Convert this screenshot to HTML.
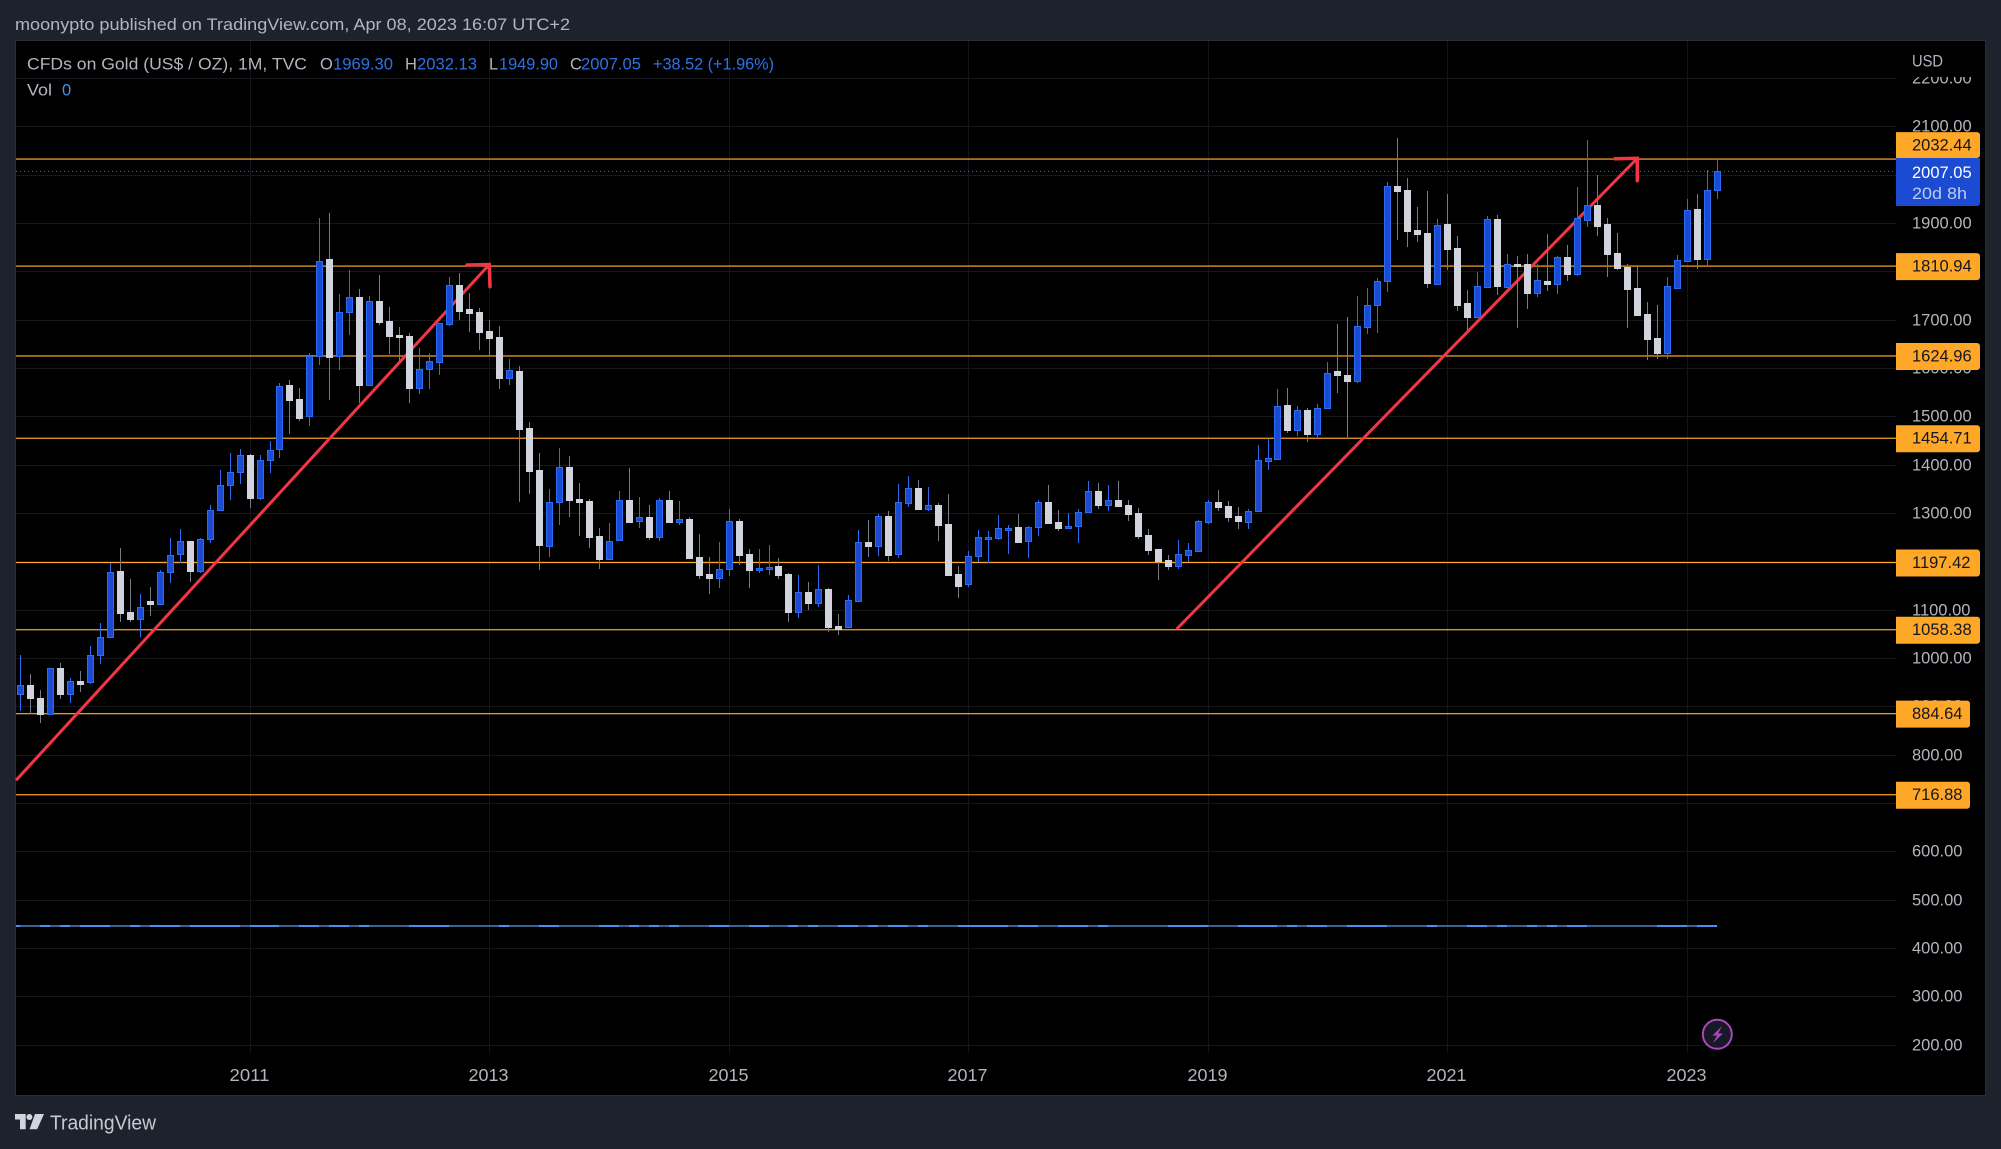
<!DOCTYPE html>
<html lang="en">
<head>
<meta charset="utf-8">
<title>CFDs on Gold monthly chart</title>
<style>
html,body{margin:0;padding:0;background:#1e222d;width:2001px;height:1149px;overflow:hidden}
svg{display:block;font-family:"Liberation Sans",sans-serif}
</style>
</head>
<body>
<svg id="chart" xmlns="http://www.w3.org/2000/svg" width="2001" height="1149" viewBox="0 0 2001 1149">
  <rect x="0" y="0" width="2001" height="1149" fill="#1e222d"/>
  <text x="15" y="30" font-size="16.5" fill="#b2b5be" textLength="555" lengthAdjust="spacingAndGlyphs">moonypto published on TradingView.com, Apr 08, 2023 16:07 UTC+2</text>
  <rect x="15" y="40" width="1971" height="1056" fill="#2a2e39"/>
  <rect x="16" y="41" width="1969" height="1054" fill="#000000"/>
  <g id="grid"></g>
  <g id="levels"></g>
  <g id="drawings"></g>
  <g id="candles"></g>
  <g id="volume"></g>
  <g id="priceAxis"></g>
  <rect x="1897" y="41" width="88" height="36" fill="#000000"/>
  <text x="1912" y="66.5" font-size="16.5" fill="#b2b5be" textLength="31" lengthAdjust="spacingAndGlyphs">USD</text>
  <g id="levelLabels"></g>
  <g id="lastPrice">
    <path d="M1896 158H1980V203a3 3 0 0 1-3 3H1896Z" fill="#1a4bd2"/>
    <text x="1912" y="178" font-size="16.5" fill="#ffffff">2007.05</text>
    <text x="1912" y="199" font-size="16.5" fill="#bccaf2" textLength="55" lengthAdjust="spacingAndGlyphs">20d 8h</text>
  </g>
  <g id="timeAxis"></g>

  <g>
    <text x="27" y="69.5" font-size="16.5" fill="#b2b5be" textLength="280" lengthAdjust="spacingAndGlyphs">CFDs on Gold (US$ / OZ), 1M, TVC</text>
    <text x="320" y="69.5" font-size="16.5" fill="#b2b5be">O</text>
    <text x="333" y="69.5" font-size="16.5" fill="#2b72e6" textLength="60" lengthAdjust="spacingAndGlyphs">1969.30</text>
    <text x="405" y="69.5" font-size="16.5" fill="#b2b5be">H</text>
    <text x="417" y="69.5" font-size="16.5" fill="#2b72e6" textLength="60" lengthAdjust="spacingAndGlyphs">2032.13</text>
    <text x="489" y="69.5" font-size="16.5" fill="#b2b5be">L</text>
    <text x="499" y="69.5" font-size="16.5" fill="#2b72e6" textLength="59" lengthAdjust="spacingAndGlyphs">1949.90</text>
    <text x="570" y="69.5" font-size="16.5" fill="#b2b5be">C</text>
    <text x="581" y="69.5" font-size="16.5" fill="#2b72e6" textLength="60" lengthAdjust="spacingAndGlyphs">2007.05</text>
    <text x="653" y="69.5" font-size="16.5" fill="#2b72e6" textLength="121" lengthAdjust="spacingAndGlyphs">+38.52 (+1.96%)</text>
    <text x="27" y="95.5" font-size="16.5" fill="#b2b5be" textLength="25" lengthAdjust="spacingAndGlyphs">Vol</text>
    <text x="62" y="95.5" font-size="16.5" fill="#4a90e2">0</text>
  </g>

  <g>
    <circle cx="1717.3" cy="1034.3" r="14.5" fill="#171a26" stroke="#ab47bc" stroke-width="2"/>
    <path d="M1722 1026L1712.5 1035.5H1717L1713 1043L1723 1033.5H1718.2Z" fill="#ab47bc"/>
  </g>

  <g>
    <path d="M15 1114H25.7V1129.3H20V1119.5H15Z" fill="#d1d4dc"/>
    <circle cx="29.4" cy="1117" r="3" fill="#d1d4dc"/>
    <path d="M35 1114H44L37.2 1129.3H29.5Z" fill="#d1d4dc"/>
    <text x="50" y="1129.5" font-size="20" fill="#c8cad1" textLength="106" lengthAdjust="spacingAndGlyphs">TradingView</text>
  </g>
</svg>
<script>
// Monthly candles, first bar Feb 2009, last bar Apr 2023
const opens = [
926,944,917,884,979,925,953,950,1006,1043,
1179,1096,1081,1117,1112,1177,1215,1241,1179,1246,
1306,1358,1384,1419,1330,1409,1432,1564,1535,1500,
1625,1825,1624,1715,1747,1564,1739,1697,1668,1666,
1559,1597,1613,1692,1772,1722,1716,1677,1664,1580,
1594,1476,1389,1232,1323,1395,1329,1325,1252,1205,
1245,1327,1284,1292,1251,1327,1282,1287,1209,1174,
1166,1185,1283,1215,1182,1185,1190,1174,1096,1136,
1114,1143,1066,1063,1118,1240,1232,1294,1216,1321,
1352,1309,1316,1277,1174,1152,1210,1249,1249,1268,
1271,1241,1270,1323,1281,1270,1274,1303,1345,1317,
1327,1316,1300,1254,1225,1203,1191,1214,1222,1282,
1323,1314,1294,1282,1305,1408,1412,1523,1472,1513,
1463,1518,1593,1585,1574,1685,1731,1781,1977,1968,
1886,1879,1774,1898,1848,1734,1705,1768,1908,1768,
1815,1815,1756,1780,1774,1830,1795,1907,1937,1898,
1838,1809,1766,1712,1662,1632,1766,1822,1929,1826,
1969.3];
const highs = [
1007,967,933,979,990,959,972,1024,1072,1196,
1227,1163,1132,1146,1181,1249,1266,1243,1249,1316,
1388,1425,1432,1423,1419,1448,1570,1576,1558,1631,
1911,1920,1753,1803,1764,1749,1793,1726,1685,1673,
1641,1631,1693,1788,1797,1755,1724,1699,1687,1619,
1604,1488,1424,1350,1434,1418,1362,1329,1269,1279,
1345,1393,1333,1316,1331,1345,1325,1292,1256,1209,
1240,1308,1287,1225,1225,1234,1207,1176,1172,1157,
1192,1145,1091,1130,1265,1285,1298,1304,1360,1376,
1368,1354,1321,1339,1190,1221,1265,1263,1296,1275,
1298,1273,1327,1358,1306,1300,1308,1366,1362,1358,
1366,1327,1310,1267,1225,1213,1244,1238,1285,1327,
1348,1325,1312,1308,1441,1453,1557,1559,1521,1517,
1526,1612,1691,1705,1749,1766,1786,1985,2076,1993,
1933,1966,1908,1960,1873,1761,1799,1915,1917,1836,
1832,1836,1815,1877,1832,1854,1975,2072,1999,1910,
1879,1815,1809,1737,1730,1788,1834,1950,1960,2010,
2032.13];
const lows = [
890,885,865,881,914,906,930,947,987,1041,
1075,1075,1044,1086,1111,1156,1197,1158,1175,1237,
1306,1326,1361,1310,1326,1382,1413,1463,1491,1479,
1607,1533,1596,1669,1527,1564,1690,1630,1613,1528,
1547,1557,1586,1687,1699,1675,1637,1626,1557,1564,
1323,1340,1182,1209,1275,1292,1252,1228,1184,1205,
1242,1281,1269,1244,1242,1281,1275,1207,1163,1132,
1145,1169,1192,1145,1176,1172,1163,1074,1083,1099,
1105,1054,1047,1063,1116,1209,1211,1201,1207,1312,
1306,1304,1242,1172,1124,1147,1199,1197,1244,1215,
1238,1207,1252,1277,1263,1267,1238,1303,1308,1304,
1312,1283,1246,1213,1161,1182,1184,1199,1222,1277,
1304,1281,1267,1267,1305,1389,1410,1465,1459,1447,
1455,1518,1548,1454,1569,1670,1672,1757,1865,1850,
1861,1766,1774,1803,1718,1679,1705,1768,1751,1768,
1683,1722,1747,1759,1753,1780,1790,1892,1873,1788,
1803,1683,1710,1617,1619,1619,1766,1822,1805,1811,
1949.9];
const closes = [
944,917,884,979,925,953,947,1007,1044,1178,
1094,1081,1106,1111,1178,1214,1242,1179,1247,1307,
1358,1385,1420,1330,1410,1431,1563,1533,1497,1625,
1822,1622,1715,1746,1564,1738,1696,1667,1664,1559,
1597,1614,1693,1771,1719,1714,1675,1662,1579,1595,
1474,1387,1234,1322,1396,1327,1323,1250,1205,1243,
1326,1281,1291,1250,1326,1281,1287,1207,1172,1165,
1185,1283,1213,1182,1186,1189,1172,1095,1136,1114,
1142,1064,1060,1119,1239,1232,1293,1213,1322,1351,
1308,1316,1275,1172,1149,1210,1250,1250,1268,1269,
1240,1270,1322,1279,1269,1274,1303,1345,1316,1326,
1314,1298,1252,1223,1201,1190,1216,1223,1283,1322,
1312,1292,1283,1305,1409,1413,1521,1472,1513,1463,
1517,1589,1585,1573,1687,1730,1781,1976,1966,1883,
1877,1776,1897,1846,1730,1705,1769,1908,1770,1815,
1813,1755,1783,1774,1829,1794,1910,1937,1894,1836,
1807,1763,1710,1660,1631,1769,1823,1928,1826,1968,
2007.05];
const volumes = opens.map(function(){return 0;});
const priceTicks = [200,300,400,500,600,700,800,900,1000,1100,1200,1300,1400,1500,1600,1700,1800,1900,2000,2100,2200];
const yearTicks = [2011,2013,2015,2017,2019,2021,2023];
const levelPrices = [2032.44,1810.94,1624.96,1454.71,1197.42,1058.38,884.64,716.88];
const lastClose = 2007.05;
const firstYear = 2009;
const firstMonth = 1; // zero-based month of first candle (Feb)

// Axis functions
function xAt(i){ return Math.round(20 + 9.98 * i); }
function yAt(p){ return 1044.5 - (p - 200) * 0.4832; }
function monthIndex(year){ return (year - firstYear) * 12 - firstMonth; }
function volY(v){ return 926 - v; }

const NS = 'http://www.w3.org/2000/svg';
function make(tag, parent, attrs, txt){
  const e = document.createElementNS(NS, tag);
  for (const k in attrs) e.setAttribute(k, attrs[k]);
  if (txt !== undefined) e.textContent = txt;
  parent.appendChild(e);
  return e;
}
const gridG = document.getElementById('grid');
const levelsG = document.getElementById('levels');
const drawG = document.getElementById('drawings');
const candlesG = document.getElementById('candles');
const volumeG = document.getElementById('volume');
const priceG = document.getElementById('priceAxis');
const labelsG = document.getElementById('levelLabels');
const timeG = document.getElementById('timeAxis');

// Grid + price labels
priceTicks.forEach(function(p){
  const y = Math.round(yAt(p));
  const line = make('rect', gridG, {x:16, y:y, width:1880, height:1, fill:'#16171b'});
  
  
  const t = make('text', priceG, {x:1912, y:y + 5.5, 'font-size':16.5, fill:'#b2b5be'}, p.toFixed(2));
  
  
});

// Year grid + labels
yearTicks.forEach(function(yr){
  const x = xAt(monthIndex(yr));
  const line = make('rect', gridG, {x:x, y:41, width:1, height:1012, fill:'#141518'});
  
  
  const t = make('text', timeG, {x:x - 20.5, y:1081, 'font-size':17.5, fill:'#b2b5be', textLength:40, lengthAdjust:'spacingAndGlyphs'}, String(yr));
  
  
});

// Horizontal levels and their labels
levelPrices.forEach(function(p, i){
  const y = yAt(p);
  const line = make('rect', levelsG, {x:16, y:y - 0.6, width:1880, height:1.2, fill:'#ffa726'});
  
  
  const shift = i === 0 ? -14 : 0;
  const w = p >= 1000 ? 84 : 74;
  const cy = y + shift;
  const tall = i === 0 ? 20 : 21;
  const box = make('path', labelsG, {d:'M1896 ' + (cy - 13) + 'h' + (w - 3) + 'a3 3 0 0 1 3 3v' + tall + 'a3 3 0 0 1-3 3h-' + (w - 3) + 'z', fill:'#ffa726'});
  
  
  const t = make('text', labelsG, {x:1912, y:cy + 5.5, 'font-size':16.5, fill:'#131722'}, p.toFixed(2));
  
  
});

// Last price dotted line
const lastLine = make('line', levelsG, {x1:16, x2:1896, y1:yAt(lastClose), y2:yAt(lastClose), stroke:'#2962ff', 'stroke-width':1, 'stroke-dasharray':'1 3'});



// Trend arrows
function arrow(name, x1, y1, x2, y2, hx1, hy1, hx2, hy2){
  const red = '#f23645';
  const g = make('g', drawG, {stroke:red, fill:'none', 'stroke-linecap':'round'});
  
  
  const shaft = make('line', g, {x1:x1, y1:y1, x2:x2, y2:y2, 'stroke-width':3, 'stroke-linecap':'butt'});
  
  
  const head = make('polyline', g, {points:hx1 + ',' + hy1 + ' ' + x2 + ',' + y2 + ' ' + hx2 + ',' + hy2, 'stroke-width':3.5});
  
  
}
arrow('trend-arrow-2011-2013', 16, 780.3, 489.3, 264.5, 467, 265, 490, 286.7);
arrow('trend-arrow-2018-2022', 1176.7, 629, 1637.3, 158.3, 1615, 158.7, 1637.3, 180.7);

// Candles
opens.forEach(function(o, i){
  const c = closes[i], h = highs[i], l = lows[i];
  const up = c >= o;
  const px = xAt(i);
  const g = make('g', candlesG, {});
  
  
  const yH = Math.round(yAt(h)), yL = Math.round(yAt(l));
  const wick = make('rect', g, {x:px, y:yH, width:1, height:Math.max(1, yL - yH), fill:up ? '#2b6cf0' : '#787b86'});
  
  
  const yT = Math.round(yAt(Math.max(o, c)));
  const yB = Math.round(yAt(Math.min(o, c)));
  const bh = Math.max(2, yB - yT);
  let body;
  if (up) {
    body = make('rect', g, {x:px - 2.5, y:yT + 0.5, width:6, height:bh, fill:'#1a4bd2', stroke:'#2a6cf2', 'stroke-width':1});
  } else {
    body = make('rect', g, {x:px - 3, y:yT, width:7, height:bh + 1, fill:'#d1d4dc'});
  }
  
  
});

// Volume (all zero, rendered as a flat line split by candle direction)
volumes.forEach(function(v, i){
  const up = closes[i] >= opens[i];
  const x0 = i === 0 ? 16 : xAt(i - 1);
  const seg = make('rect', volumeG, {x:x0, y:volY(v) - 1, width:xAt(i) - x0, height:2, fill:up ? '#4a8fee' : '#3c6294'});
  
  
});
</script>
</body>
</html>
